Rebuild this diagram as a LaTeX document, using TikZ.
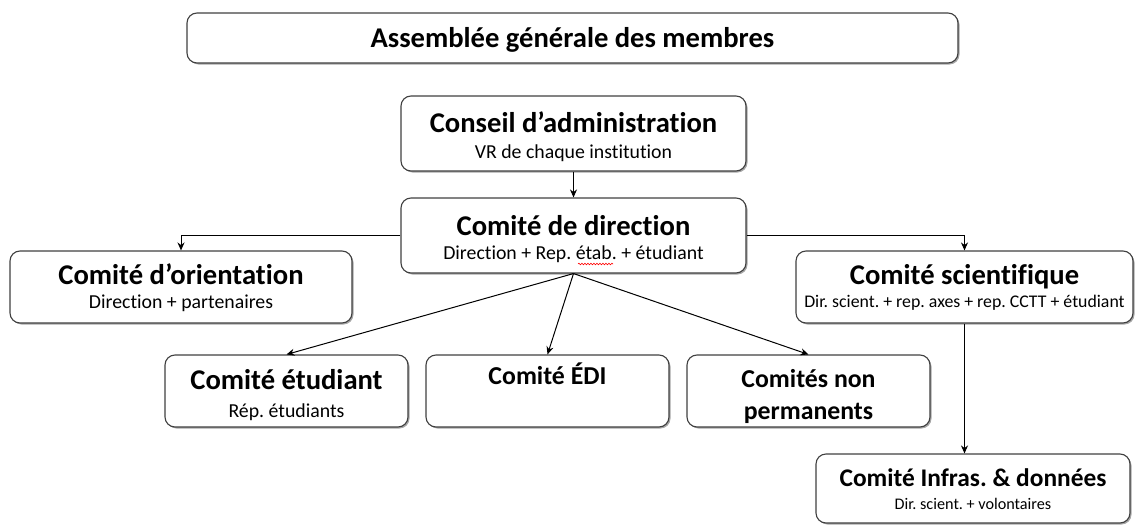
\documentclass[tikz,border=0pt]{standalone}
\usepackage{fontspec}
\setmainfont{Carlito}[Ligatures={NoCommon}]
\usetikzlibrary{arrows.meta,shadows,decorations.pathmorphing}
\frenchspacing
\begin{document}
\begin{tikzpicture}[x=1pt,y=-1pt,
  box/.style={draw=black!75, line width=1.1pt, rounded corners=10pt, fill=white, inner sep=0pt,
    drop shadow={shadow xshift=1.5pt, shadow yshift=-1.5pt, opacity=0.35, fill=black}},
  ttl/.style={anchor=base, inner sep=0pt, font=\fontsize{28.6}{33}\selectfont\bfseries},
  ttls/.style={anchor=base, inner sep=0pt, font=\fontsize{25.8}{30}\selectfont\bfseries},
  sub/.style={anchor=base, inner sep=0pt, font=\fontsize{19.8}{23}\selectfont},
  arr/.style={draw=black, line width=1pt, -{Stealth[length=8pt,width=7pt]}}]
\useasboundingbox (0,0) rectangle (1136,525);
% boxes
\node[box, minimum width=771pt, minimum height=50pt] (ag) at (572.5,38) {};
\node[box, minimum width=345pt, minimum height=75pt] (ca) at (573.5,133.5) {};
\node[box, minimum width=345pt, minimum height=75pt] (cd) at (573.5,235.5) {};
\node[box, minimum width=342pt, minimum height=72pt] (co) at (181,287) {};
\node[box, minimum width=337pt, minimum height=72pt] (cs) at (964.5,287) {};
\node[box, minimum width=243pt, minimum height=72pt] (ce) at (286.5,391) {};
\node[box, minimum width=243pt, minimum height=72pt] (cedi) at (547.5,391) {};
\node[box, minimum width=243pt, minimum height=72pt] (cnp) at (808.5,391) {};
\node[box, minimum width=314pt, minimum height=69pt] (ci) at (973,488.5) {};
% texts
\node[ttl] (agt) at (572.5,47) {Assemblée générale des membres};
\node[ttl] (cat) at (573.5,132) {Conseil d’administration};
\node[sub] (cas) at (573.5,158) {VR de chaque institution};
\node[ttl] (cdt) at (573.5,235) {Comité de direction};
\node[sub] (cds) at (573.5,259) {Direction + Rep. étab. + étudiant};
\node[ttl] (cot) at (181,284) {Comité d’orientation};
\node[sub] (cos) at (181,308) {Direction + partenaires};
\node[ttl] (cst) at (964.5,284) {Comité scientifique};
\node[anchor=base, inner sep=0pt, font=\fontsize{17.8}{20}\selectfont] (css) at (964.5,307) {Dir. scient. + rep. axes + rep. CCTT + étudiant};
\node[ttl] (cet) at (286.5,389) {Comité étudiant};
\node[sub] (ces) at (286.5,417) {Rép. étudiants};
\node[ttls] (cedit) at (547.5,384) {Comité ÉDI};
\node[ttls] (cnpt) at (808.5,387) {Comités non};
\node[ttls] (cnps) at (808.5,419) {permanents};
\node[anchor=base, inner sep=0pt, font=\fontsize{25.4}{30}\selectfont\bfseries] (cit) at (973,486) {Comité Infras. \& données};
\node[anchor=base, inner sep=0pt, font=\fontsize{16.2}{19}\selectfont] (cis) at (973,509) {Dir. scient. + volontaires};
% spell-check underline
\draw[red, line width=0.6pt, decorate, decoration={snake, amplitude=0.8pt, segment length=3pt}] (578,264) -- (613,264);
% connectors
\draw[arr] (ca.south) -- (cd.north);
\draw[arr] (cd.west) -| (co.north);
\draw[arr] (cd.east) -| (cs.north);
\draw[arr] (cd.south) -- (ce.north);
\draw[arr] (cd.south) -- (cedi.north);
\draw[arr] (cd.south) -- (cnp.north);
\draw[arr] (cs.south) -- (cs.south |- ci.north);
\end{tikzpicture}
\end{document}
